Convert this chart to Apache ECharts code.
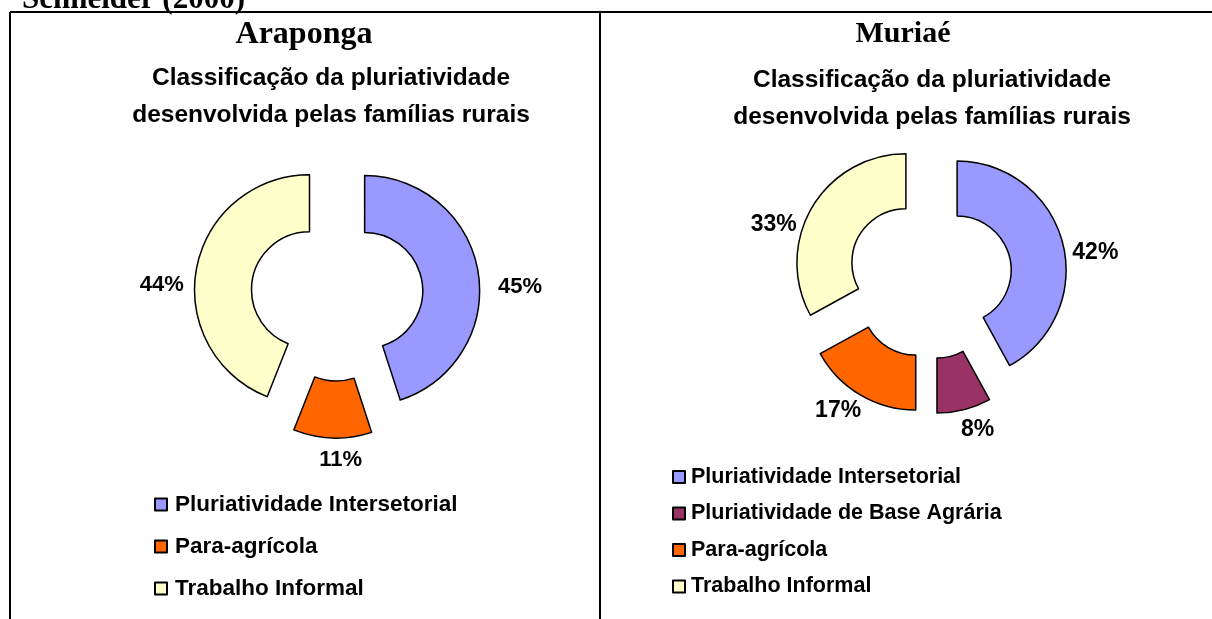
<!DOCTYPE html>
<html>
<head>
<meta charset="utf-8">
<script src="https://cdn.jsdelivr.net/npm/echarts@6/dist/echarts.min.js"></script>
<style>
html,body{margin:0;padding:0;background:#fff;}
#c{width:1212px;height:619px;}
</style>
</head>
<body>
<div id="c"></div>
<script>
// ---- data ----
const sourceNote = 'Schneider (2000)';
const chartSubtitle = 'Classificação da pluriatividade\ndesenvolvida pelas famílias rurais';
const araTitle = 'Araponga';
const araCategories = ['Pluriatividade Intersetorial', 'Para-agrícola', 'Trabalho Informal'];
const araValues = [45, 11, 44];
const murTitle = 'Muriaé';
const murCategories = ['Pluriatividade Intersetorial', 'Pluriatividade de Base Agrária', 'Para-agrícola', 'Trabalho Informal'];
const murValues = [42, 8, 17, 33];

// ---- styles ----
const colors = {
  'Pluriatividade Intersetorial': '#9999FF',
  'Pluriatividade de Base Agrária': '#993366',
  'Para-agrícola': '#FF6600',
  'Trabalho Informal': '#FFFFCC'
};
// label nudges (Excel-style label placement), per chart, per slice order
const araLabelNudge = [[3, 16], [35, 10], [4, 19]];
const murLabelNudge = [[-7, 13], [-11, 8], [12, 5], [0, 24]];

const SANS = '"Liberation Sans", Arial, sans-serif';
const SERIF = '"Liberation Serif", "Times New Roman", serif';

function buildData(cats, vals) {
  return cats.map((c, i) => ({
    name: c, value: vals[i], selected: true,
    itemStyle: { color: colors[c] }
  }));
}

function pieSeries(cats, vals, nudges, center, radius, fontSize) {
  return {
    type: 'pie',
    center: center,
    radius: radius,
    startAngle: 90,
    clockwise: true,
    selectedMode: 'multiple',
    selectedOffset: 28,
    avoidLabelOverlap: false,
    itemStyle: { borderColor: '#000', borderWidth: 1.5 },
    emphasis: { disabled: true },
    label: {
      show: true,
      position: 'outside',
      formatter: '{c}%',
      color: '#000',
      fontFamily: SANS,
      fontWeight: 'bold',
      fontSize: fontSize
    },
    labelLine: { show: false, length: 12, length2: 0 },
    labelLayout: function (p) {
      const n = nudges[p.dataIndex] || [0, 0];
      return { dx: n[0], dy: n[1] };
    },
    data: buildData(cats, vals)
  };
}

const chart = echarts.init(document.getElementById('c'), null, { renderer: 'canvas' });
chart.setOption({
  animation: false,
  backgroundColor: '#fff',
  title: [
    { text: sourceNote, left: 22, top: -16, textStyle: { fontFamily: SERIF, fontWeight: 'bold', fontSize: 31, color: '#000' }, padding: 0 },
    { text: araTitle, left: 304, top: 19, textAlign: 'center', textStyle: { fontFamily: SERIF, fontWeight: 'bold', fontSize: 32, color: '#000' }, padding: 0 },
    { text: murTitle, left: 903, top: 19, textAlign: 'center', textStyle: { fontFamily: SERIF, fontWeight: 'bold', fontSize: 30, color: '#000' }, padding: 0 },
    { text: chartSubtitle, left: 331, top: 60, textAlign: 'center', textStyle: { fontFamily: SANS, fontWeight: 'bold', fontSize: 24.5, lineHeight: 37, color: '#000' }, padding: 0 },
    { text: chartSubtitle, left: 932, top: 62, textAlign: 'center', textStyle: { fontFamily: SANS, fontWeight: 'bold', fontSize: 24.5, lineHeight: 37, color: '#000' }, padding: 0 }
  ],
  legend: [
    {
      data: araCategories, orient: 'vertical', left: 154, top: 493, padding: 0,
      icon: 'rect', itemWidth: 12, itemHeight: 12, itemGap: 19,
      selectedMode: false,
      textStyle: { fontFamily: SANS, fontWeight: 'bold', fontSize: 22.5, color: '#000', padding: [0, 0, 0, 3] }
    },
    {
      data: murCategories, orient: 'vertical', left: 672, top: 466, padding: 0,
      icon: 'rect', itemWidth: 12, itemHeight: 12, itemGap: 14.5,
      selectedMode: false,
      textStyle: { fontFamily: SANS, fontWeight: 'bold', fontSize: 21.5, color: '#000', padding: [0, 0, 0, 1] }
    }
  ],
  graphic: [
    { type: 'line', shape: { x1: 10, y1: 12, x2: 1212, y2: 12 }, style: { stroke: '#000', lineWidth: 2 } },
    { type: 'line', shape: { x1: 10, y1: 12, x2: 10, y2: 619 }, style: { stroke: '#000', lineWidth: 2 } },
    { type: 'line', shape: { x1: 600, y1: 12, x2: 600, y2: 619 }, style: { stroke: '#000', lineWidth: 2 } }
  ],
  series: [
    pieSeries(araCategories, araValues, araLabelNudge, [337, 295], [58, 115], 22),
    pieSeries(murCategories, murValues, murLabelNudge, [930, 277], [54, 109], 23)
  ]
});
</script>
</body>
</html>
